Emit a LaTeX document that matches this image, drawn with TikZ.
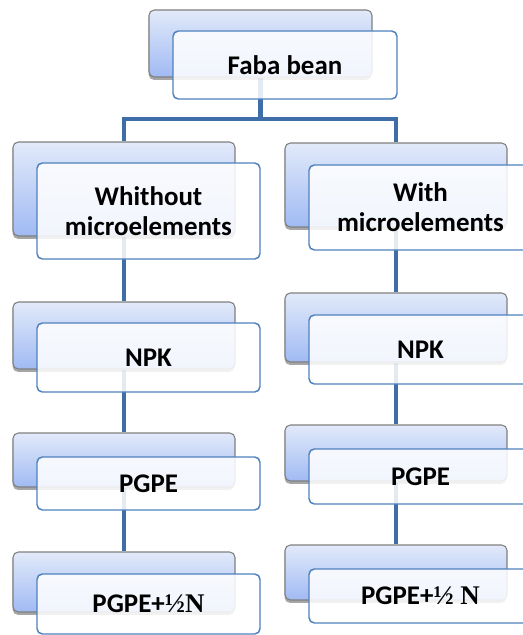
\documentclass[tikz,border=0pt]{standalone}
\usepackage{fontspec}
\setmainfont{Carlito}
\newfontfamily\serifb{Liberation Serif}
\usetikzlibrary{shadows}
\definecolor{backtop}{HTML}{E2EAFA}
\definecolor{backbot}{HTML}{A0BAF3}
\definecolor{backline}{HTML}{7F7F7F}
\definecolor{frontline}{HTML}{4F81BD}
\definecolor{connc}{HTML}{3E6DA8}
\pgfdeclarelayer{bg}
\pgfsetlayers{bg,main}
\begin{document}
\begin{tikzpicture}[x=0.75pt,y=-0.75pt,
 backbox/.style={draw=backline, line width=0.8pt, rounded corners=4pt, top color=backtop, bottom color=backbot, inner sep=0pt,
   drop shadow={shadow xshift=-0.3pt, shadow yshift=-2.2pt, opacity=0.35, fill=black}},
 frontbox/.style={draw=frontline, line width=1.1pt, rounded corners=4pt, fill=white, fill opacity=0.86, text opacity=1,
   inner sep=0pt, align=center, font=\fontsize{20.2}{22.5}\selectfont\bfseries},
 bw/.style={minimum width={#1*0.75pt}},
 bh/.style={minimum height={#1*0.75pt}},
 conn/.style={draw=connc, line width=3.7pt}]
\useasboundingbox (0,0) rectangle (523,635);
\clip (0,0) rectangle (523,635);
% top
\node[backbox,bw=223,bh=67] (faB) at (260.5,43.5) {};
\node[frontbox,bw=224,bh=68] (faF) at (285,65) {Faba bean};
% second row
\node[backbox,bw=222,bh=94] (wB) at (124,189) {};
\node[frontbox,bw=223,bh=96] (wF) at (148.5,211) {Whithout\\microelements};
\node[backbox,bw=222,bh=84] (mB) at (396,185) {};
\node[frontbox,bw=223,bh=85] (mF) at (420.5,207.5) {With\\microelements};
% NPK
\node[backbox,bw=222,bh=67] (nLB) at (124,335.5) {};
\node[frontbox,bw=223,bh=69] (nLF) at (148.5,357.5) {NPK};
\node[backbox,bw=222,bh=69] (nRB) at (396,327.5) {};
\node[frontbox,bw=223,bh=69] (nRF) at (420.5,349.5) {NPK};
% PGPE
\node[backbox,bw=222,bh=54] (pLB) at (124,460) {};
\node[frontbox,bw=223,bh=53] (pLF) at (148.5,483.5) {PGPE};
\node[backbox,bw=222,bh=56] (pRB) at (396,453) {};
\node[frontbox,bw=223,bh=55] (pRF) at (420.5,476.5) {PGPE};
% PGPE + 1/2 N
\node[backbox,bw=222,bh=60] (hLB) at (124,582) {};
\node[frontbox,bw=223,bh=60] (hLF) at (148.5,604) {PGPE+{\serifb\bfseries ½N}};
\node[backbox,bw=222,bh=55] (hRB) at (396,572.5) {};
\node[frontbox,bw=223,bh=54] (hRF) at (420.5,596) {PGPE+{\serifb\bfseries ½ N}};
% connectors
\begin{pgfonlayer}{bg}
\coordinate (j) at (260.5,119);
\draw[conn] (faB.south) -- (j);
\draw[conn,line join=miter] (wB.north) |- (j) -| (mB.north);
\draw[conn] (wB.south) -- (nLB.north);
\draw[conn] (nLB.south) -- (pLB.north);
\draw[conn] (pLB.south) -- (hLB.north);
\draw[conn] (mB.south) -- (nRB.north);
\draw[conn] (nRB.south) -- (pRB.north);
\draw[conn] (pRB.south) -- (hRB.north);
\end{pgfonlayer}
\end{tikzpicture}
\end{document}
